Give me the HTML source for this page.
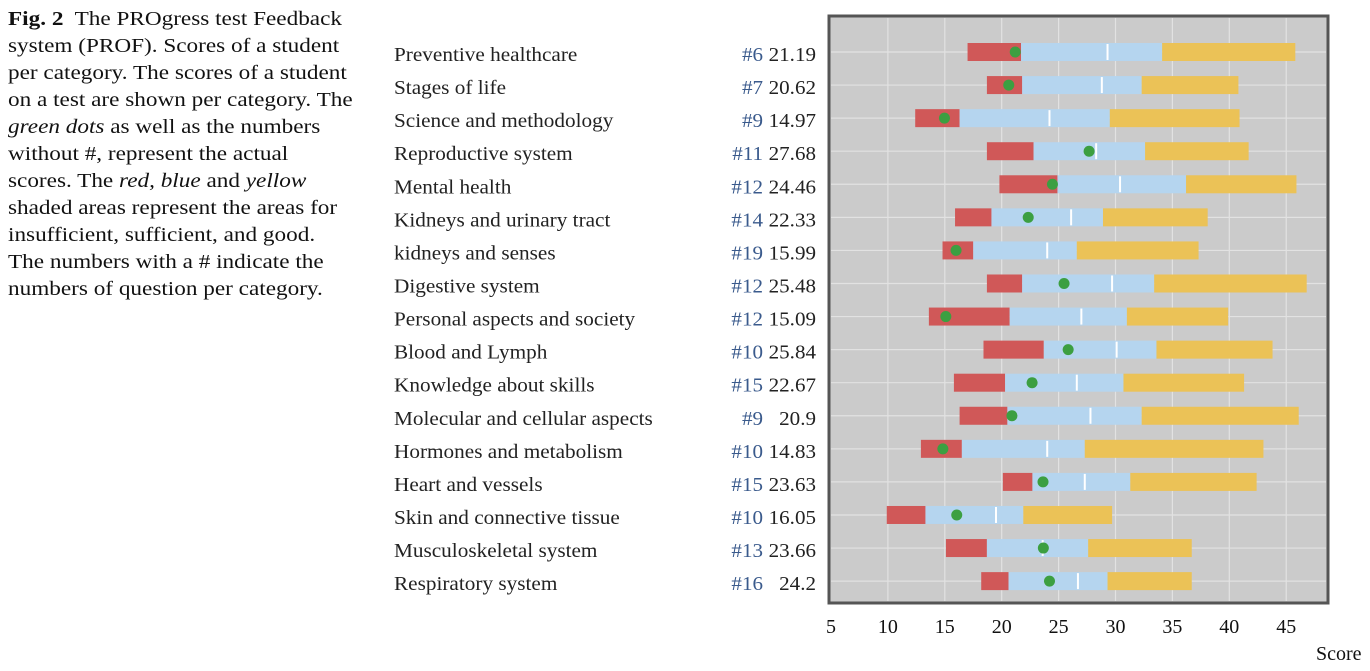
<!DOCTYPE html>
<html><head><meta charset="utf-8">
<style>
body{margin:0;width:1370px;height:671px;background:#fff;overflow:hidden;position:relative;font-family:"Liberation Serif",serif;}
#cap{position:absolute;left:8px;top:6px;width:360px;font-size:20px;line-height:27px;color:#111;white-space:nowrap;transform:scaleX(1.16);transform-origin:0 0;}
#cap i{font-style:italic}
svg{position:absolute;left:0;top:0}
</style></head><body>
<div id="cap"><b>Fig. 2</b>&nbsp; The PROgress test Feedback<br>system (PROF). Scores of a student<br>per category. The scores of a student<br>on a test are shown per category. The<br><i>green dots</i> as well as the numbers<br>without #, represent the actual<br>scores. The <i>red, blue</i> and <i>yellow</i><br>shaded areas represent the areas for<br>insufficient, sufficient, and good.<br>The numbers with a # indicate the<br>numbers of question per category.</div>
<svg id="chart" width="1370" height="671"></svg>
<script>
const categories=["Preventive healthcare","Stages of life","Science and methodology","Reproductive system","Mental health","Kidneys and urinary tract","kidneys and senses","Digestive system","Personal aspects and society","Blood and Lymph","Knowledge about skills","Molecular and cellular aspects","Hormones and metabolism","Heart and vessels","Skin and connective tissue","Musculoskeletal system","Respiratory system"];
const questionCounts=[6,7,9,11,12,14,19,12,12,10,15,9,10,15,10,13,16];
const scores=[21.19,20.62,14.97,27.68,24.46,22.33,15.99,25.48,15.09,25.84,22.67,20.9,14.83,23.63,16.05,23.66,24.2];
const redStart=[17.0,18.7,12.4,18.7,19.8,15.9,14.8,18.7,13.6,18.4,15.8,16.3,12.9,20.1,9.9,15.1,18.2];
const blueStart=[21.7,21.8,16.3,22.8,24.9,19.1,17.5,21.8,20.7,23.7,20.3,20.5,16.5,22.7,13.3,18.7,20.6];
const blueMid=[29.3,28.8,24.2,28.3,30.4,26.1,24.0,29.7,27.0,30.1,26.6,27.8,24.0,27.3,19.5,23.6,26.7];
const yellowStart=[34.1,32.3,29.5,32.6,36.2,28.9,26.6,33.4,31.0,33.6,30.7,32.3,27.3,31.3,21.9,27.6,29.3];
const yellowEnd=[45.8,40.8,40.9,41.7,45.9,38.1,37.3,46.8,39.9,43.8,41.3,46.1,43.0,42.4,29.7,36.7,36.7];
const xTicks=[5,10,15,20,25,30,35,40,45];

const svg=document.getElementById('chart');
const NS='http://www.w3.org/2000/svg';
const PL=829,PR=1328,PT=16,PB=603;
const x=v=>831+(v-5)*11.38;
const y=i=>52+i*33.07;
function el(t,a,p){const e=document.createElementNS(NS,t);for(const k in a)e.setAttribute(k,a[k]);(p||svg).appendChild(e);return e;}
const panel=el('rect',{x:PL,y:PT,width:PR-PL,height:PB-PT,fill:'#cbcbcb',stroke:'#555',"stroke-width":3});


xTicks.forEach(t=>{
 if(t>5){const g=el('line',{x1:x(t),x2:x(t),y1:PT+2,y2:PB-2,stroke:'#e2e2e2',"stroke-width":1.2});
 
 }
 const tl=el('text',{x:x(t),y:633,"text-anchor":"middle","font-size":20,fill:'#111'});tl.textContent=t;
 
 
});
const labG=el('g',{transform:'translate(394,0) scale(1.09,1)'});
const numG=el('g',{transform:'translate(763,0) scale(1.08,1)'});
const scG=el('g',{transform:'translate(816,0) scale(1.08,1)'});
categories.forEach((c,i)=>{
 const yc=y(i);
 const gl=el('line',{x1:PL+2,x2:PR-2,y1:yc,y2:yc,stroke:'#e2e2e2',"stroke-width":1.2});
 
 
 const lab=el('text',{x:0,y:yc+9,"font-size":19.5,fill:'#222'},labG);lab.textContent=c;
 
 
 const q=el('text',{x:0,y:yc+9,"text-anchor":"end","font-size":19.5,fill:'#3a5a8c'},numG);q.textContent='#'+questionCounts[i];
 
 
 const s=el('text',{x:0,y:yc+9,"text-anchor":"end","font-size":19.5,fill:'#222'},scG);s.textContent=scores[i];
 
 
 const h=18,yt=yc-h/2;
 const r=el('rect',{x:x(redStart[i]),y:yt,width:x(blueStart[i])-x(redStart[i]),height:h,fill:'#d05858'});
 
 
 const b=el('rect',{x:x(blueStart[i]),y:yt,width:x(yellowStart[i])-x(blueStart[i]),height:h,fill:'#b5d5ef'});
 
 
 const m=el('line',{x1:x(blueMid[i]),x2:x(blueMid[i]),y1:yt+1,y2:yt+h-1,stroke:'#fff',"stroke-width":2});
 
 
 const yl=el('rect',{x:x(yellowStart[i]),y:yt,width:x(yellowEnd[i])-x(yellowStart[i]),height:h,fill:'#ebc257'});
 
 
 const d=el('circle',{cx:x(scores[i]),cy:yc,r:5.5,fill:'#3c9f41'});
 
 
});
const xt=el('text',{x:1316,y:660,"font-size":20,fill:'#111'});xt.textContent='Score';


</script>
</body></html>
